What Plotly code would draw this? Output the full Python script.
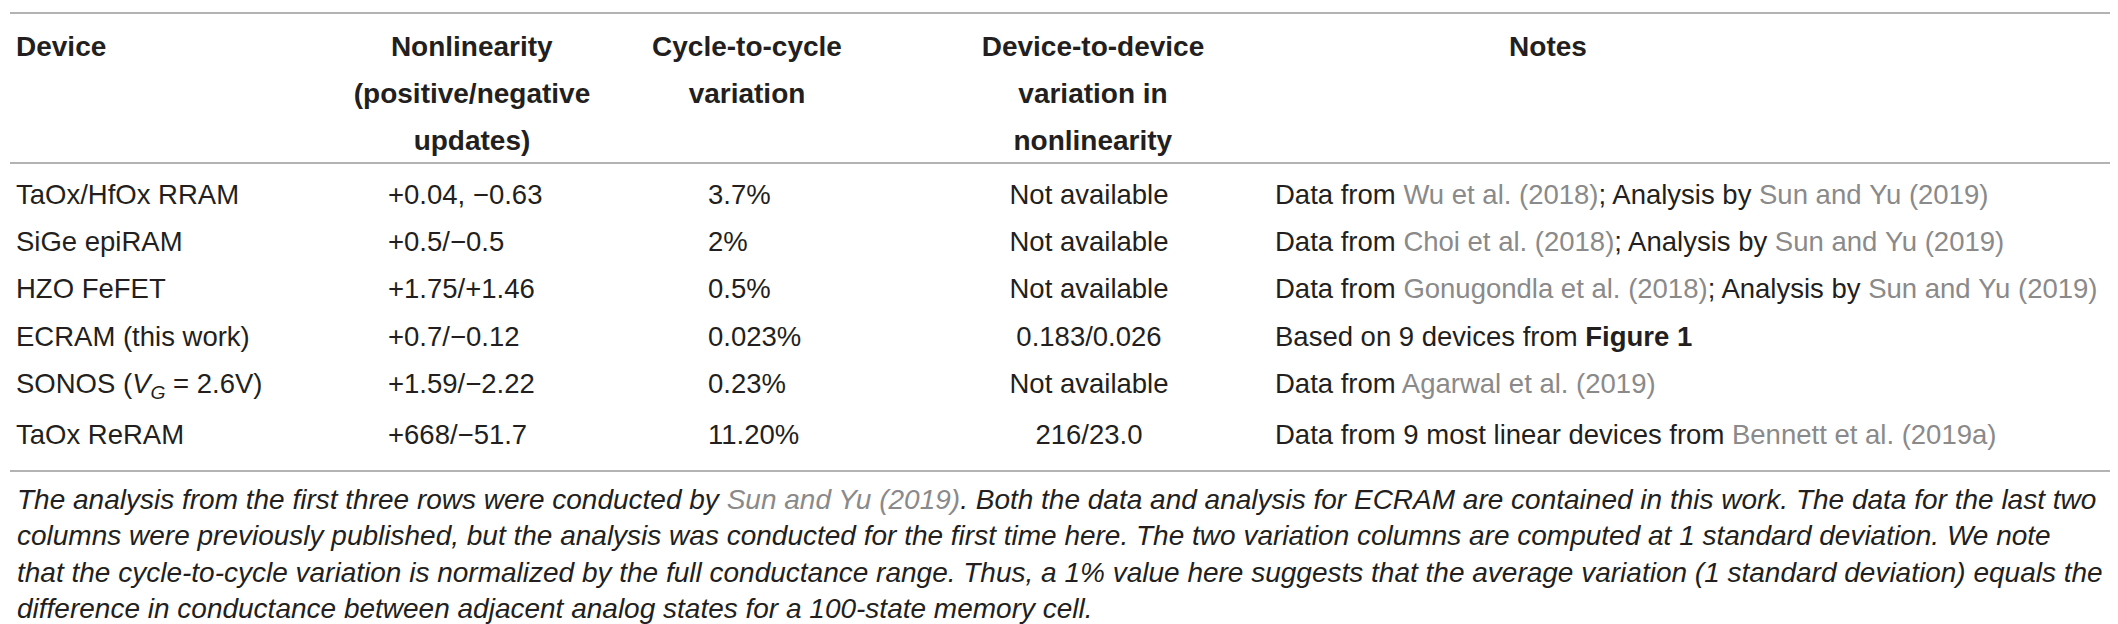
import plotly.graph_objects as go

W, H = 2118, 624
FONT = "Liberation Sans"
INK = "#231f20"
LINK = "#8a8a8a"
FS_HEAD = 28
FS_BODY = 27.5
FS_FOOT = 28
NB = "\u00a0"

def cite(t):
    # grey citation text; link form keeps the table's word measure intact
    return f"<a href='https://doi.org'style='color:{LINK}'>{t.replace(' ', NB)}</a>"

def cite_span(t):
    return f"<span style='color:{LINK}'>{t}</span>"

# ---- data ----
header_titles = [
    ["<b>Device</b>", "", ""],
    ["<b>Nonlinearity</b>", "<b>(positive/negative</b>", "<b>updates)</b>"],
    ["<b>Cycle-to-cycle</b>", "<b>variation</b>", ""],
    ["<b>Device-to-device</b>", "<b>variation in</b>", "<b>nonlinearity</b>"],
    ["<b>Notes</b>", "", ""],
]
devices = ["TaOx/HfOx RRAM", "SiGe epiRAM", "HZO FeFET", "ECRAM (this work)",
           "SONOS (<i>V</i><sub><i>G</i></sub> = 2.6V)", "TaOx ReRAM"]
nonlinearity = ["+0.04, \u22120.63", "+0.5/\u22120.5", "+1.75/+1.46", "+0.7/\u22120.12",
                "+1.59/\u22122.22", "+668/\u221251.7"]
cycle_var = ["3.7%", "2%", "0.5%", "0.023%", "0.23%", "11.20%"]
device_var = ["Not available", "Not available", "Not available", "0.183/0.026",
              "Not available", "216/23.0"]
data_sources = ["Wu et al. (2018)", "Choi et al. (2018)", "Gonugondla et al. (2018)",
                None, "Agarwal et al. (2019)", "Bennett et al. (2019a)"]
analysis_src = ["Sun and Yu (2019)", "Sun and Yu (2019)", "Sun and Yu (2019)", None, None, None]

notes = []
for i, (src, an) in enumerate(zip(data_sources, analysis_src)):
    if src is None:
        t = "Based on 9 devices from <b>Figure 1</b>"
    elif i == 5:
        t = "Data from 9 most linear devices from " + cite(src)
    elif an:
        t = "Data from " + cite(src) + "; Analysis by " + cite(an)
    else:
        t = "Data from " + cite(src)
    notes.append(t)

foot_lines = [
    "The analysis from the first three rows were conducted by " + cite_span("Sun and Yu (2019)")
    + ". Both the data and analysis for ECRAM are contained in this work. The data for the last two",
    "columns were previously published, but the analysis was conducted for the first time here. "
    "The two variation columns are computed at 1 standard deviation. We note",
    "that the cycle-to-cycle variation is normalized by the full conductance range. Thus, a 1% value "
    "here suggests that the average variation (1 standard deviation) equals the",
    "difference in conductance between adjacent analog states for a 100-state memory cell.",
]

# ---- layout geometry (pixels) ----
head_cols = [300, 328, 222, 470, 440, 358]
body_cols = [372, 320, 211, 356, 859]
rules_px = [5, 155, 463]

def py(p):
    return 1 - p / H

def styled(col):
    # same rich-text rendering path for every cell so all columns share one baseline
    return [f"<span>{v}</span>" for v in col]

fig = go.Figure()

hdr_vals = [styled(c) for c in header_titles] + [["", "", ""]]
fig.add_trace(go.Table(
    domain=dict(x=[0, 1], y=[py(400), py(14)]),
    columnwidth=head_cols,
    header=dict(values=[""] * 6, height=1, fill_color="white",
                line=dict(width=0, color="white"),
                font=dict(family=FONT, size=1, color="white")),
    cells=dict(values=hdr_vals, height=40,
               align=["left", "center", "center", "center", "center", "center"],
               fill_color="white", line=dict(width=0, color="white"),
               font=dict(family=FONT, size=FS_HEAD, color=INK)),
))

fig.add_trace(go.Table(
    domain=dict(x=[0, 1], y=[py(470), py(162)]),
    columnwidth=body_cols,
    header=dict(values=[""] * 5, height=1, fill_color="white",
                line=dict(width=0, color="white"),
                font=dict(family=FONT, size=1, color="white")),
    cells=dict(values=[styled(devices), styled(nonlinearity), styled(cycle_var),
                       styled(device_var), styled(notes)],
               height=47.2,
               align=["left", "left", "left", "center", "left"],
               fill_color="white", line=dict(width=0, color="white"),
               font=dict(family=FONT, size=FS_BODY, color=INK)),
))

for r in rules_px:
    fig.add_shape(type="line", xref="paper", yref="paper",
                  x0=2 / W, x1=2113 / W, y0=py(r), y1=py(r),
                  line=dict(color="#9a9a9a", width=1.5), layer="above")

fig.add_annotation(
    xref="paper", yref="paper", x=7 / W, y=py(474), xanchor="left", yanchor="top",
    align="left", showarrow=False,
    text="<br>".join("<i>" + l + "</i>" for l in foot_lines),
    font=dict(family=FONT, size=FS_FOOT, color=INK),
)

fig.update_layout(width=W, height=H, margin=dict(l=0, r=0, t=0, b=0),
                  paper_bgcolor="white", plot_bgcolor="white")
fig.write_html("out.html")
